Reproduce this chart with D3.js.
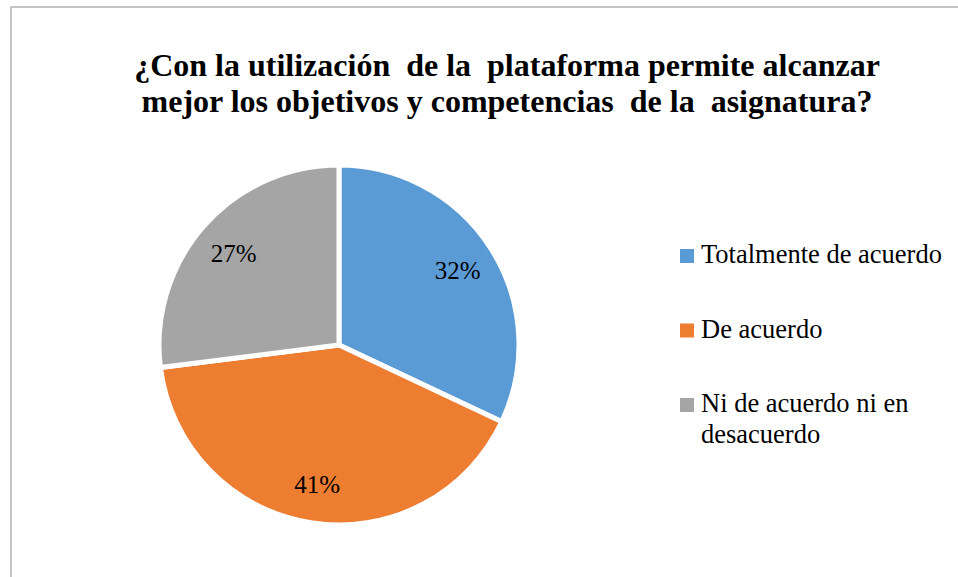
<!DOCTYPE html>
<html>
<head>
<meta charset="utf-8">
<script src="https://cdn.jsdelivr.net/npm/d3@7"></script>
<style>
  body { margin: 0; background: #fff; }
</style>
</head>
<body>
<svg id="chart" width="958" height="577"></svg>
<script>
const categories = ["Totalmente de acuerdo", "De acuerdo", "Ni de acuerdo ni en desacuerdo"]
const values = [32, 41, 27]
const colors = ["#5B9BD5", "#ED7D31", "#A5A5A5"]
const titleLines = ["¿Con la utilización  de la  plataforma permite alcanzar",
  "mejor los objetivos y competencias  de la  asignatura?"]
const legendLines = [["Totalmente de acuerdo"], ["De acuerdo"], ["Ni de acuerdo ni en", "desacuerdo"]]

const serif = "'Liberation Serif', 'Times New Roman', Tinos, 'DejaVu Serif', serif"

const svg = d3.select("#chart")
  .style("font-family", serif)

// chart frame (runs off the right and bottom edge)
svg.append("rect")
  .attr("x", 11).attr("y", 7)
  .attr("width", 980).attr("height", 600)
  .attr("fill", "none")
  .attr("stroke", "#b3b3b3")
  .attr("stroke-width", 1.5)

svg.append("g").selectAll("text")
  .data(titleLines)
  .enter().append("text")
  .attr("x", 507)
  .attr("y", (d, i) => 76 + i * 36)
  .attr("text-anchor", "middle")
  .attr("font-family", serif)
  .attr("font-weight", "bold")
  .attr("font-size", 32)
  .style("white-space", "pre")
  .text(d => d)

const cx = 339, cy = 345, radius = 180

const pie = d3.pie().sort(null).value(d => d)
const arcs = pie(values)
const arc = d3.arc().innerRadius(0).outerRadius(radius)
const labelArc = d3.arc().innerRadius(radius * 0.78).outerRadius(radius * 0.78)

const g = svg.append("g").attr("transform", "translate(" + cx + "," + cy + ")")

g.selectAll("path")
  .data(arcs)
  .enter().append("path")
  .attr("d", arc)
  .attr("fill", (d, i) => colors[i])
  .attr("stroke", "#fff")
  .attr("stroke-width", 5)
  .attr("stroke-linejoin", "round")

g.selectAll("text.label")
  .data(arcs)
  .enter().append("text")
  .attr("class", "label")
  .attr("transform", d => "translate(" + labelArc.centroid(d) + ")")
  .attr("dy", "0.38em")
  .attr("text-anchor", "middle")
  .attr("font-family", serif)
  .attr("font-size", 25)
  .attr("fill", "#000")
  .text(d => d.data + "%")

const legend = svg.append("g").attr("transform", "translate(680,263)")
const item = legend.selectAll("g")
  .data(categories)
  .enter().append("g")
  .attr("transform", (d, i) => "translate(0," + i * 74.5 + ")")

item.append("rect")
  .attr("x", 0).attr("y", -14)
  .attr("width", 14).attr("height", 14)
  .attr("fill", (d, i) => colors[i])

item.each(function (d, i) {
  d3.select(this).selectAll("text")
    .data(legendLines[i])
    .enter().append("text")
    .attr("x", 21)
    .attr("y", (t, j) => j * 31)
    .attr("font-family", serif)
    .attr("font-size", 26.5)
    .text(t => t)
})
</script>
</body>
</html>
